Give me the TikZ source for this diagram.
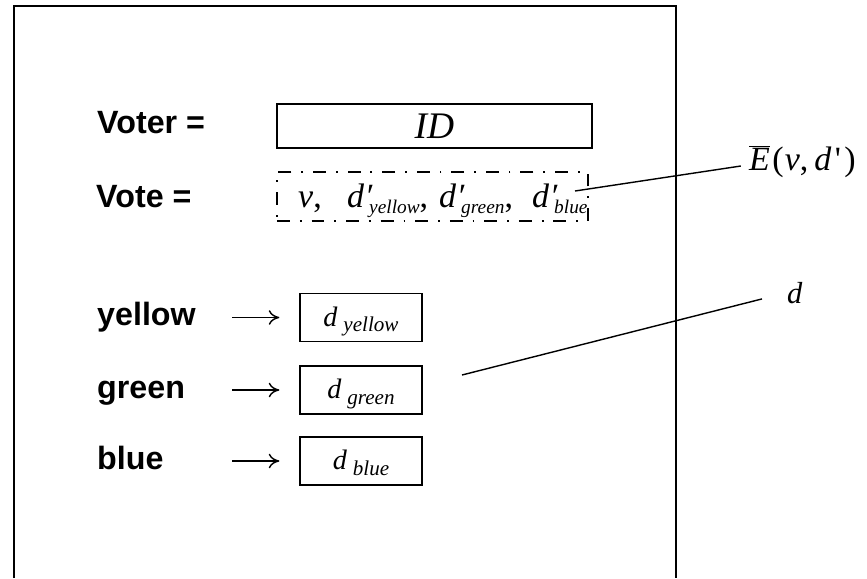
\documentclass[tikz,border=0pt]{standalone}
\usepackage{fontspec}
\setmainfont{Liberation Serif}
\newfontfamily\labelfont{Liberation Sans}
\usetikzlibrary{arrows.meta}

\newcommand{\dsub}[1]{% Parameter: colour name set under the d
  \textit{d}\kern5pt\raisebox{-5pt}{\fontsize{18}{18}\selectfont\textit{#1}}%
}
\newcommand{\dprm}[1]{% Parameter: colour name set under the primed d
  \textit{d}\kern0.5pt\textit{′}\kern-3pt\raisebox{-5.5pt}{\fontsize{16.5}{17}\selectfont\textit{#1}}%
}
\tikzset{
  frame/.style={line width=1.3pt},
  word/.style={font=\labelfont\bfseries\fontsize{27.5}{30}\selectfont, inner sep=0pt, anchor=base west},
  ibox/.style={draw, line width=1.3pt, minimum width=269pt, minimum height=37.6pt, inner sep=0pt,
    font=\itshape\fontsize{32}{34}\selectfont},
  vbox/.style={draw, line width=1.2pt, dash pattern=on 11pt off 8.5pt on 1.5pt off 8.5pt,
    minimum width=265.5pt, minimum height=41.8pt, inner sep=0pt},
  vpart/.style={font=\fontsize{29}{32}\selectfont, inner sep=0pt, anchor=base west},
  dbox/.style={draw, line width=1.3pt, minimum width=104pt, minimum height=41pt, inner sep=0pt,
    text height=17pt, text depth=2.5pt, font=\fontsize{24}{26}\selectfont},
  maparrow/.style={line width=1.2pt, -{Computer Modern Rightarrow[length=3.2mm,width=4.4mm]}},
  leader/.style={line width=1.2pt},
}

\begin{document}
\begin{tikzpicture}[x=0.03cm, y=-0.03cm]
  \useasboundingbox (0,0) rectangle (867,578);
  % open frame, no bottom edge
  \draw[frame] (14,578) -- (14,6) -- (676,6) -- (676,578);

  % record layout
  \node[word] (voter) at (97,133) {Voter =};
  \node[ibox] (id) at (434.5,126) {ID};
  \node[word] (vote) at (96,207) {Vote =};
  \node[vbox] (vote box) at (432.5,196.5) {};
  \node[vpart] (vv) at (298,207) {\textit{v},};
  \node[vpart] (dpy) at (347,207) {\dprm{yellow},};
  \node[vpart] (dpg) at (439,207) {\dprm{green},};
  \node[vpart] (dpb) at (532,207) {\dprm{blue}};

  % colour -> counter
  \coordinate (arrowx) at (232,0);
  \foreach \col/\y in {yellow/317.5, green/390, blue/461} {
    \node[word] (\col) at (97,\y+8) {\col};
    \node[dbox] (d\col) at (361,\y) {\dsub{\col}};
    \draw[maparrow, shorten >=17pt] (d\col.west -| arrowx) -- (d\col.west);
  }

  % callouts
  \node[font=\fontsize{29}{32}\selectfont, inner sep=0pt, anchor=base west] (ebar) at (749,170)
    {$\overline{\hbox{\textit{E}}}$\kern2pt(\kern1pt\textit{v},\kern5pt\textit{d}\kern3pt\textquotesingle\kern3pt)};
  \coordinate (etail) at (575,191);
  \draw[leader] (etail) -- ([xshift=-7pt,yshift=-4pt]ebar.west);
  \node[font=\itshape\fontsize{26}{30}\selectfont, inner sep=0pt, anchor=base west] (dlab) at (787,303) {d};
  \coordinate (dtail) at (462,375);
  \draw[leader, shorten >=22pt] (dtail) -- (dlab.west);
\end{tikzpicture}
\end{document}
